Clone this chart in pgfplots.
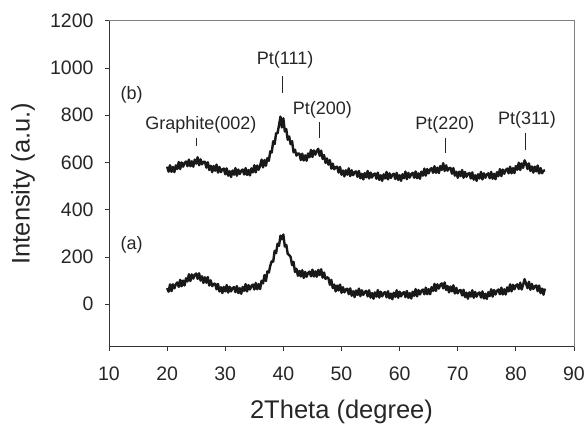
\documentclass[border=0pt]{standalone}
\usepackage{fontspec}
\setmainfont{Liberation Sans}
\usepackage{pgfplots}
\pgfplotsset{compat=1.18}
\begin{document}
\begin{tikzpicture}
\useasboundingbox (-109pt,-76.3pt) rectangle (476pt,346.7pt);
\begin{axis}[
  at={(0pt,0pt)}, anchor=south west,
  scale only axis, width=465pt, height=326pt,
  xmin=10, xmax=90, ymin=-180, ymax=1200,
  xtick={10,20,...,90}, ytick={0,200,...,1200},
  axis x line*=bottom, axis y line*=left,
  axis line style={-, black!80, line width=0.8pt},
  tick align=outside, major tick length=4pt,
  tick style={black!80, line width=0.8pt},
  /pgf/number format/assume math mode=true,
  /pgf/number format/1000 sep={},
  tick label style={font=\fontsize{19.5}{23}\selectfont, text=black!85},
  yticklabel style={xshift=-8pt},
  xticklabel style={yshift=-13pt},
  xlabel={2Theta (degree)}, ylabel={Intensity (a.u.)},
  label style={font=\fontsize{25.5}{30}\selectfont, text=black!85},
  xlabel style={at={(axis description cs:0.5,-0.219)}, anchor=base},
  ylabel style={at={(axis description cs:-0.185,0.5)}, anchor=center},
  clip=false,
]
% (b)
\addplot[black!90, line width=2.4pt, line join=round] coordinates {
(20,582)(20.25,561)(20.5,588)(20.75,560)(21,581)(21.25,559)(21.5,588)(21.75,572)(22,602)(22.25,572)(22.5,600)(22.75,582)(23,598)
(23.25,604)(23.5,584)(23.75,612)(24,584)(24.25,605)(24.5,582)(24.75,612)(25,595)(25.25,622)(25.5,588)(25.75,613)(26,592)(26.25,603)
(26.5,603)(26.75,578)(27,601)(27.25,568)(27.5,586)(27.75,559)(28,585)(28.25,565)(28.5,591)(28.75,557)(29,581)(29.25,559)(29.5,571)
(29.75,574)(30,550)(30.25,575)(30.5,544)(30.75,563)(31,538)(31.25,566)(31.5,548)(31.75,576)(32,544)(32.25,570)(32.5,551)(32.75,565)
(33,570)(33.25,549)(33.5,576)(33.75,547)(34,568)(34.25,545)(34.5,575)(34.75,558)(35,588)(35.25,558)(35.5,587)(35.75,569)(36,586)
(36.25,612)(36.5,579)(36.75,610)(37,586)(37.25,618)(37.5,607)(37.75,647)(38,642)(38.25,690)(38.5,678)(38.75,724)(39,724)(39.25,758)
(39.5,794)(39.75,748)(40,787)(40.25,731)(40.5,741)(40.75,696)(41,710)(41.25,677)(41.5,690)(41.75,643)(42,654)(42.25,629)(42.5,638)
(42.75,637)(43,610)(43.25,637)(43.5,608)(43.75,630)(44,607)(44.25,638)(44.5,622)(44.75,653)(45,623)(45.25,651)(45.5,633)(45.75,648)
(46,658)(46.25,628)(46.5,650)(46.75,615)(47,631)(47.25,598)(47.5,617)(47.75,591)(48,610)(48.25,574)(48.5,595)(48.75,571)(49,580)
(49.25,582)(49.5,557)(49.75,581)(50,548)(50.25,566)(50.5,541)(50.75,567)(51,548)(51.25,575)(51.5,542)(51.75,567)(52,546)(52.25,559)
(52.5,562)(52.75,539)(53,564)(53.25,533)(53.5,552)(53.75,528)(54,555)(54.25,537)(54.5,564)(54.75,532)(55,557)(55.25,536)(55.5,550)
(55.75,553)(56,531)(56.25,557)(56.5,526)(56.75,546)(57,522)(57.25,550)(57.5,532)(57.75,560)(58,528)(58.25,554)(58.5,534)(58.75,548)
(59,552)(59.25,530)(59.5,556)(59.75,526)(60,546)(60.25,522)(60.5,550)(60.75,533)(61,561)(61.25,529)(61.5,556)(61.75,536)(62,551)
(62.25,556)(62.5,535)(62.75,562)(63,533)(63.25,554)(63.5,531)(63.75,561)(64,544)(64.25,574)(64.5,544)(64.75,572)(65,554)(65.25,570)
(65.5,576)(65.75,556)(66,584)(66.25,556)(66.5,578)(66.75,555)(67,585)(67.25,568)(67.5,597)(67.75,564)(68,588)(68.25,565)(68.5,576)
(68.75,577)(69,552)(69.25,576)(69.5,544)(69.75,561)(70,535)(70.25,561)(70.5,542)(70.75,568)(71,535)(71.25,560)(71.5,539)(71.75,552)
(72,555)(72.25,532)(72.5,558)(72.75,527)(73,546)(73.25,522)(73.5,550)(73.75,532)(74,560)(74.25,528)(74.5,554)(74.75,535)(75,549)
(75.25,554)(75.5,533)(75.75,560)(76,531)(76.25,552)(76.5,529)(76.75,559)(77,542)(77.25,572)(77.5,542)(77.75,570)(78,552)(78.25,568)
(78.5,574)(78.75,554)(79,582)(79.25,554)(79.5,576)(79.75,555)(80,585)(80.25,569)(80.5,599)(80.75,568)(81,596)(81.25,577)(81.5,609)
(81.75,595)(82,572)(82.25,596)(82.5,564)(82.75,583)(83,557)(83.25,582)(83.5,562)(83.75,587)(84,553)(84.25,576)(84.5,554)(84.75,565)
(85,567)
};
% (a)
\addplot[black!90, line width=2.4pt, line join=round] coordinates {
(20,68)(20.25,53)(20.5,84)(20.75,55)(21,84)(21.25,67)(21.5,84)(21.75,92)(22,73)(22.25,103)(22.5,76)(22.75,100)(23,79)
(23.25,110)(23.5,96)(23.75,127)(24,98)(24.25,126)(24.5,108)(24.75,124)(25,130)(25.25,107)(25.5,131)(25.75,100)(26,118)(26.25,90)
(26.5,114)(26.75,91)(27,115)(27.25,79)(27.5,101)(27.75,76)(28,86)(28.25,87)(28.5,63)(28.75,86)(29,54)(29.25,72)(29.5,47)
(29.75,73)(30,54)(30.25,81)(30.5,49)(30.75,74)(31,54)(31.25,68)(31.5,72)(31.75,51)(32,77)(32.25,47)(32.5,68)(32.75,44)
(33,73)(33.25,56)(33.5,85)(33.75,54)(34,81)(34.25,62)(34.5,77)(34.75,83)(35,62)(35.25,90)(35.5,63)(35.75,85)(36,64)
(36.25,99)(36.5,88)(36.75,123)(37,98)(37.25,139)(37.5,134)(37.75,163)(38,182)(38.25,180)(38.5,226)(38.75,216)(39,256)(39.25,247)
(39.5,290)(39.75,275)(40,295)(40.25,244)(40.5,251)(40.75,213)(41,208)(41.25,200)(41.5,165)(41.75,179)(42,136)(42.25,150)(42.5,120)
(42.75,141)(43,117)(43.25,144)(43.5,111)(43.75,137)(44,116)(44.25,132)(44.5,138)(44.75,118)(45,146)(45.25,117)(45.5,139)(45.75,116)
(46,145)(46.25,123)(46.5,148)(46.75,112)(47,134)(47.25,107)(47.5,114)(47.75,111)(48,82)(48.25,103)(48.5,68)(48.75,83)(49,54)
(49.25,79)(49.5,58)(49.75,83)(50,48)(50.25,72)(50.5,50)(50.75,63)(51,65)(51.25,42)(51.5,67)(51.75,36)(52,55)(52.25,30)
(52.5,58)(52.75,39)(53,66)(53.25,34)(53.5,59)(53.75,39)(54,52)(54.25,56)(54.5,33)(54.75,59)(55,28)(55.25,47)(55.5,23)
(55.75,50)(56,32)(56.25,60)(56.5,28)(56.75,53)(57,33)(57.25,47)(57.5,51)(57.75,29)(58,55)(58.25,25)(58.5,45)(58.75,21)
(59,49)(59.25,31)(59.5,59)(59.75,27)(60,53)(60.25,33)(60.5,47)(60.75,51)(61,30)(61.25,56)(61.5,27)(61.75,47)(62,24)
(62.25,53)(62.5,35)(62.75,64)(63,33)(63.25,60)(63.5,41)(63.75,57)(64,62)(64.25,42)(64.5,70)(64.75,42)(65,64)(65.25,42)
(65.5,72)(65.75,56)(66,86)(66.25,56)(66.5,84)(66.75,66)(67,82)(67.25,88)(67.5,67)(67.75,92)(68,60)(68.25,77)(68.5,50)
(68.75,75)(69,54)(69.25,80)(69.5,45)(69.75,69)(70,46)(70.25,58)(70.5,60)(70.75,37)(71,61)(71.25,30)(71.5,49)(71.75,23)
(72,50)(72.25,32)(72.5,59)(72.75,27)(73,52)(73.25,32)(73.5,46)(73.75,50)(74,28)(74.25,54)(74.5,24)(74.75,44)(75,22)
(75.25,51)(75.5,34)(75.75,63)(76,32)(76.25,60)(76.5,41)(76.75,57)(77,62)(77.25,42)(77.5,70)(77.75,41)(78,63)(78.25,41)
(78.5,71)(78.75,54)(79,84)(79.25,54)(79.5,82)(79.75,63)(80,79)(80.25,84)(80.5,64)(80.75,91)(81,62)(81.25,83)(81.5,106)
(81.75,87)(82,68)(82.25,95)(82.5,61)(82.75,86)(83,64)(83.25,76)(83.5,79)(83.75,55)(84,79)(84.25,47)(84.5,66)(84.75,40)
(85,66)
};
\draw[gray, line width=0.8pt] (rel axis cs:0,1) -- (rel axis cs:1,1) -- (rel axis cs:1,0);
\begin{scope}[every node/.style={font=\fontsize{18}{21}\selectfont, text=black!85, inner sep=0pt}]
\node at (axis cs:13.9,885) {(b)};
\node at (axis cs:13.9,250) {(a)};
\node at (axis cs:25.8,758) {Graphite(002)};
\node at (axis cs:40.3,1033) {Pt(111)};
\node at (axis cs:46.7,822) {Pt(200)};
\node at (axis cs:67.8,758) {Pt(220)};
\node at (axis cs:81.9,779) {Pt(311)};
\end{scope}
\begin{scope}[black!85, line width=0.9pt]
\draw (axis cs:25.1,703) -- (axis cs:25.1,669);
\draw (axis cs:39.9,966) -- (axis cs:39.9,894);
\draw (axis cs:46.2,771) -- (axis cs:46.2,703);
\draw (axis cs:67.8,703) -- (axis cs:67.8,640);
\draw (axis cs:81.6,724) -- (axis cs:81.6,652);
\end{scope}
\end{axis}
\end{tikzpicture}
\end{document}
